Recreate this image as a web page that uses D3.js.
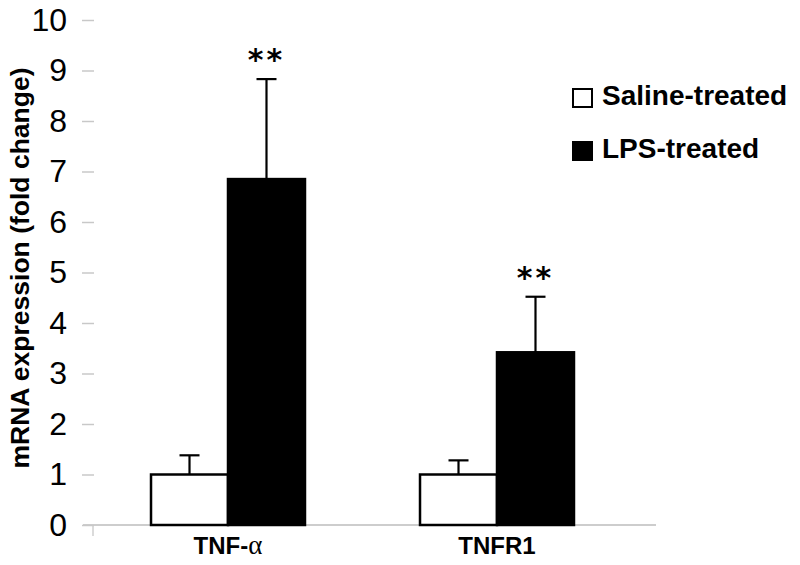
<!DOCTYPE html>
<html>
<head>
<meta charset="utf-8">
<script src="https://cdn.jsdelivr.net/npm/d3@7/dist/d3.min.js"></script>
<style>
  html, body { margin: 0; padding: 0; background: #fff; }
  svg { display: block; }
</style>
</head>
<body>
<svg id="chart" width="800" height="565"></svg>
<script>
const categories = ["TNF-", "TNFR1"];
const categorySuffix = ["α", ""];
const series = ["Saline-treated", "LPS-treated"];
const salineValues = [1.0, 1.0];
const salineErrors = [0.38, 0.28];
const lpsValues = [6.85, 3.42];
const lpsErrors = [1.98, 1.1];
const significance = ["**", "**"];
const yTicks = [0, 1, 2, 3, 4, 5, 6, 7, 8, 9, 10];

const colors = { "Saline-treated": "#ffffff", "LPS-treated": "#000000" };
const valueMap = { "Saline-treated": salineValues, "LPS-treated": lpsValues };
const errorMap = { "Saline-treated": salineErrors, "LPS-treated": lpsErrors };

const svg = d3.select("#chart");

const y = d3.scaleLinear().domain([0, 10]).range([525, 20]);
const x0 = d3.scaleBand().domain(categories).range([93.5, 631.5]).paddingInner(0).paddingOuter(0);
const x1 = d3.scaleBand().domain(series).range([0, x0.bandwidth()]).paddingInner(0).paddingOuter(0.747);

// x baseline
svg.append("line")
  .attr("x1", 83).attr("x2", 656)
  .attr("y1", y(0)).attr("y2", y(0))
  .attr("stroke", "#bdbdbd").attr("stroke-width", 1.5);
svg.append("line")
  .attr("x1", 93).attr("x2", 93)
  .attr("y1", y(0)).attr("y2", y(0) + 11)
  .attr("stroke", "#cfcfcf").attr("stroke-width", 1.5);

// y axis (ticks only)
const yAxis = d3.axisLeft(y).tickValues(yTicks).tickSize(12).tickPadding(15).tickFormat(d3.format("d"));
const gy = svg.append("g").attr("transform", "translate(94,0)").call(yAxis);
gy.select(".domain").remove();
gy.selectAll(".tick line").attr("stroke", "#c8c8c8").attr("stroke-width", 1.5);
gy.selectAll(".tick text")
  .attr("font-family", "Liberation Sans, Arial, sans-serif")
  .attr("font-size", 32).attr("fill", "#000");

// y title
svg.append("text")
  .attr("transform", "translate(29,268) rotate(-90)")
  .attr("text-anchor", "middle")
  .attr("font-family", "Liberation Sans, Arial, sans-serif")
  .attr("font-weight", "bold").attr("font-size", 26.5)
  .text("mRNA expression (fold change)");

// bars
const data = [];
categories.forEach((c, i) => {
  series.forEach(s => data.push({ cat: c, s, i, v: valueMap[s][i], e: errorMap[s][i] }));
});

const bars = svg.append("g");
bars.selectAll("rect").data(data).enter().append("rect")
  .attr("x", d => x0(d.cat) + x1(d.s))
  .attr("y", d => y(d.v))
  .attr("width", x1.bandwidth())
  .attr("height", d => y(0) - y(d.v))
  .attr("fill", d => colors[d.s])
  .attr("stroke", "#000").attr("stroke-width", 2.5);

// error bars
const eb = svg.append("g").attr("stroke", "#000").attr("stroke-width", 2.2);
data.forEach(d => {
  const cx = x0(d.cat) + x1(d.s) + x1.bandwidth() / 2;
  eb.append("line").attr("x1", cx).attr("x2", cx).attr("y1", y(d.v)).attr("y2", y(d.v + d.e));
  eb.append("line").attr("x1", cx - 10).attr("x2", cx + 10).attr("y1", y(d.v + d.e)).attr("y2", y(d.v + d.e));
});

// significance
categories.forEach((c, i) => {
  const cx = x0(c) + x1("LPS-treated") + x1.bandwidth() / 2;
  svg.append("text")
    .attr("x", cx).attr("y", y(lpsValues[i] + lpsErrors[i]) - 9)
    .attr("text-anchor", "middle")
    .attr("font-family", "DejaVu Sans, sans-serif")
    .attr("font-weight", "bold").attr("font-size", 30)
    .attr("letter-spacing", 3)
    .text(significance[i]);
});

// category labels
const catText = svg.selectAll(".cat").data(categories).enter().append("text")
  .attr("x", d => x0(d) + x0.bandwidth() / 2)
  .attr("y", 554)
  .attr("text-anchor", "middle")
  .attr("font-family", "Liberation Sans, Arial, sans-serif")
  .attr("font-weight", "bold").attr("font-size", 24);
catText.append("tspan").text(d => d);
catText.append("tspan")
  .attr("font-family", "Liberation Serif, serif")
  .attr("font-weight", "normal").attr("font-size", 27)
  .text((d, i) => categorySuffix[i]);

// legend
const legend = svg.append("g");
series.forEach((s, i) => {
  const ly = 89 + i * 53;
  legend.append("rect")
    .attr("x", 573).attr("y", ly).attr("width", 19).attr("height", 18)
    .attr("fill", colors[s]).attr("stroke", "#000").attr("stroke-width", 2);
  legend.append("text")
    .attr("x", 602).attr("y", ly + 16)
    .attr("font-family", "Liberation Sans, Arial, sans-serif")
    .attr("font-weight", "bold").attr("font-size", 28)
    .text(s);
});
</script>
</body>
</html>
